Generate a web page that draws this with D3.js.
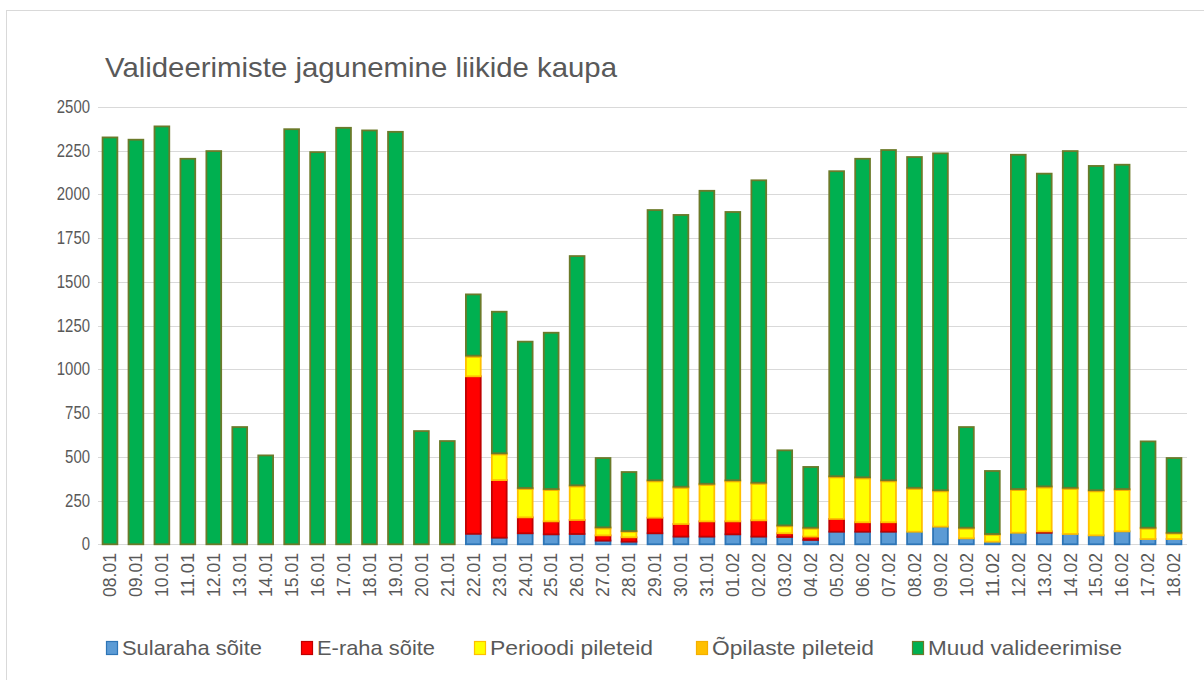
<!DOCTYPE html>
<html>
<head>
<meta charset="utf-8">
<script src="https://cdn.jsdelivr.net/npm/d3@7"></script>
<style>
  html, body { margin: 0; padding: 0; background: #ffffff; }
  svg { display: block; }
  text { font-family: "Liberation Sans", Arial, sans-serif; fill: #595959; }
</style>
</head>
<body>
<svg id="chart" width="1204" height="680"></svg>
<script>
// Daily validations, split by type
const dates = ["08.01","09.01","10.01","11.01","12.01","13.01","14.01","15.01","16.01","17.01",
  "18.01","19.01","20.01","21.01","22.01","23.01","24.01","25.01","26.01","27.01",
  "28.01","29.01","30.01","31.01","01.02","02.02","03.02","04.02","05.02","06.02",
  "07.02","08.02","09.02","10.02","11.02","12.02","13.02","14.02","15.02","16.02",
  "17.02","18.02"];

const sularaha = [0,0,0,0,0,0,0,0,0,0, 0,0,0,0,60,38,63,57,59,21,
  15,63,44,44,57,44,42,25,72,72, 72,72,101,34,15,66,66,59,51,74, 30,30];
const eraha = [0,0,0,0,0,0,0,0,0,0, 0,0,0,0,900,329,91,74,80,30,
  25,89,72,87,74,93,21,19,73,54, 54,0,0,0,0,0,8,0,0,0, 0,0];
const perioodi = [0,0,0,0,0,0,0,0,0,0, 0,0,0,0,112,147,162,179,192,40,
  32,208,207,209,229,209,40,46,238,251, 234,245,202,56,40,244,251,258,252,236, 60,32];
const opilaste = [0,0,0,0,0,0,0,0,0,0, 0,0,0,0,6,6,6,6,6,6,
  4,6,6,6,6,6,5,5,6,6, 6,6,6,5,4,6,6,6,6,6, 5,4];
const muud = [2325,2312,2388,2203,2247,670,508,2372,2241,2380, 2365,2357,647,590,350,809,836,893,1310,396,
  337,1544,1553,1674,1533,1728,429,347,1743,1820, 1887,1890,1925,575,360,1910,1787,1924,1853,1853, 493,427];

const yTicks = [0,250,500,750,1000,1250,1500,1750,2000,2250,2500];

const seriesNames = ["Sularaha sõite","E-raha sõite","Perioodi pileteid","Õpilaste pileteid","Muud valideerimise"];
const seriesValues = [sularaha, eraha, perioodi, opilaste, muud];
const fills = ["#5B9BD5","#FF0000","#FFFF00","#FFC000","#00B050"];
const strokes = ["#2E75B6","#C00000","#FFC000","#F4B000","#6B7A2A"];

const svg = d3.select("#chart");

// chart frame
svg.append("rect")
  .attr("x", 6.5).attr("y", 10.5)
  .attr("width", 1210).attr("height", 700)
  .attr("fill", "none").attr("stroke", "#d9d9d9").attr("stroke-width", 1);

// title
svg.append("text")
  .attr("x", 105).attr("y", 77)
  .attr("font-size", 28)
  .attr("textLength", 512).attr("lengthAdjust", "spacingAndGlyphs")
  .text("Valideerimiste jagunemine liikide kaupa");

const x = d3.scaleBand()
  .domain(dates)
  .range([97, 1187])
  .paddingInner(0.43)
  .paddingOuter(0.215);

const y = d3.scaleLinear()
  .domain([0, 2500])
  .range([544.3, 106.8]);

// gridlines
svg.append("g")
  .selectAll("line")
  .data(yTicks)
  .join("line")
  .attr("x1", 98).attr("x2", 1187)
  .attr("y1", d => Math.round(y(d)) + 0.5)
  .attr("y2", d => Math.round(y(d)) + 0.5)
  .attr("stroke", "#d9d9d9").attr("stroke-width", 1.2);

// y axis labels
const yAxis = d3.axisLeft(y).tickValues(yTicks).tickFormat(d3.format("d")).tickSize(0).tickPadding(0);
const yG = svg.append("g").attr("transform", "translate(90,0)").call(yAxis);
yG.select(".domain").remove();
yG.selectAll("text").attr("font-size", 17.5).attr("fill", "#595959")
  .attr("font-family", "Liberation Sans, Arial, sans-serif")
  .attr("textLength", d => String(d).length * 8.3)
  .attr("lengthAdjust", "spacingAndGlyphs");

// stacked data
const rows = dates.map((d, i) => {
  const r = { date: d };
  seriesNames.forEach((s, k) => { r[s] = seriesValues[k][i]; });
  return r;
});
const stack = d3.stack().keys(seriesNames);
const layers = stack(rows);

svg.append("g")
  .selectAll("g")
  .data(layers)
  .join("g")
  .attr("fill", (d, k) => fills[k])
  .attr("stroke", (d, k) => strokes[k])
  .attr("stroke-width", 1.8)
  .selectAll("rect")
  .data(d => d.filter(p => p[1] - p[0] > 0))
  .join("rect")
  .attr("x", p => x(p.data.date))
  .attr("width", x.bandwidth())
  .attr("y", p => y(p[1]))
  .attr("height", p => y(p[0]) - y(p[1]));

// x axis labels (rotated)
const xAxis = d3.axisBottom(x).tickSize(0).tickPadding(0);
const xG = svg.append("g").attr("transform", "translate(0,544)").call(xAxis);
xG.select(".domain").remove();
xG.selectAll("text")
  .attr("font-size", 18)
  .attr("font-family", "Liberation Sans, Arial, sans-serif")
  .attr("fill", "#595959")
  .attr("text-anchor", "end")
  .attr("dy", "0.35em")
  .attr("textLength", 44)
  .attr("lengthAdjust", "spacingAndGlyphs")
  .attr("transform", "translate(0,9) rotate(-90)")
  .attr("x", 0).attr("y", 0);

// legend
const legendX = [106, 301, 474, 696, 912];
const legendW = [140, 118, 163, 162, 194];
const legend = svg.append("g").attr("transform", "translate(0,648)");
seriesNames.forEach((s, k) => {
  legend.append("rect")
    .attr("x", legendX[k] + 0.5).attr("y", -6.5)
    .attr("width", 11).attr("height", 13)
    .attr("fill", fills[k]).attr("stroke", strokes[k]).attr("stroke-width", 1.2);
  legend.append("text")
    .attr("x", legendX[k] + 16).attr("y", 0)
    .attr("dy", "0.35em")
    .attr("font-size", 21)
    .attr("textLength", legendW[k]).attr("lengthAdjust", "spacingAndGlyphs")
    .text(s);
});
</script>
</body>
</html>
